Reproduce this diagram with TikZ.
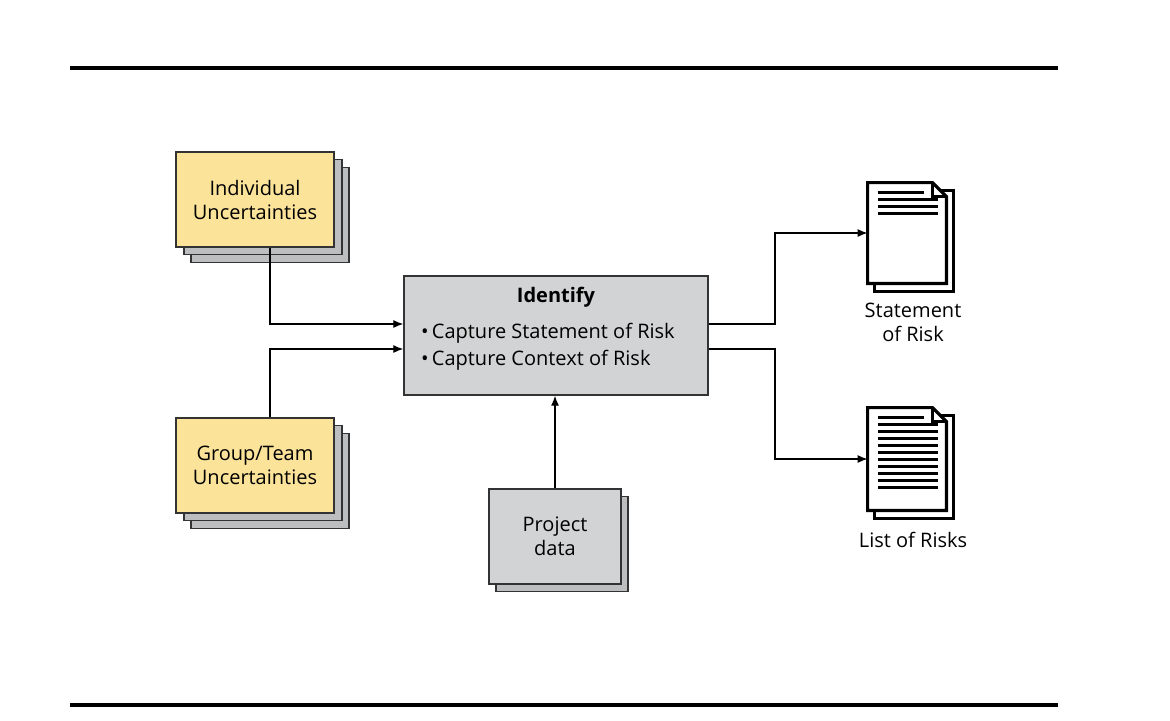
\documentclass[tikz,border=0pt]{standalone}
\usepackage{fontspec}
\setmainfont{Open Sans}
\usetikzlibrary{positioning,arrows.meta}
\definecolor{boxyellow}{HTML}{FBE39A}
\definecolor{boxgray}{HTML}{D2D3D4}
\definecolor{backgray}{HTML}{BDBEC0}
\tikzset{
  card/.style={draw=black!80,line width=0.7pt,minimum width=79pt,minimum height=47.5pt,
    align=center,font=\fontsize{10}{12}\selectfont},
  back/.style={card,fill=backgray},
  link/.style={line width=0.6pt,-{Latex[length=5pt,width=4pt]}},
  rule/.style={line width=2pt}
}
% paper icon: #1 = node name, #2 = number of text lines
\newcommand{\paper}[2]{%
  \draw[line width=1.6pt,fill=white] ([shift={(7,8)}]#1.north west) rectangle ([shift={(7,8)}]#1.south east);
  \draw[line width=1.6pt,fill=white] (#1.north west) -- ([xshift=-7pt]#1.north east)
    -- ([yshift=-7pt]#1.north east) -- (#1.south east) -- (#1.south west) -- cycle;
  \draw[line width=1.2pt] ([xshift=-7pt]#1.north east) -- ++(0,-7pt) -- ++(7pt,0);
  \draw[line width=1.6pt] ([shift={(10,10)}]#1.north west) -- ([shift={(-22,10)}]#1.north east);
  \foreach \i in {1,...,#2}
    \draw[line width=1.6pt] ([shift={(10,10+7*\i)}]#1.north west) -- ([shift={(-8,10+7*\i)}]#1.north east);
}
\begin{document}
\begin{tikzpicture}[x=0.5pt,y=-0.5pt]
  \useasboundingbox (0,0) rectangle (1170,720);
  \draw[rule] (70,68) -- (1058,68);
  \draw[rule] (70,705) -- (1058,705);

  % input cards
  \node[back] at (270,215) {};
  \node[back] at (263,207) {};
  \node[card,fill=boxyellow] (indiv) at (255,199.5) {Individual\\Uncertainties};
  \node[back] at (270,481) {};
  \node[back] at (263,473) {};
  \node[card,fill=boxyellow] (group) at (255,465.5) {Group/Team\\Uncertainties};
  \node[back,minimum width=66pt] at (562,544) {};
  \node[card,fill=boxgray,minimum width=66pt] (data) at (555,536.5) {Project\\data};

  % process
  \node[card,fill=boxgray,minimum width=152pt,minimum height=59.5pt] (ident) at (556,335.5) {};
  \node[font=\fontsize{10}{12}\selectfont\bfseries] (title) at (556,297) {Identify};
  \node[font=\fontsize{10}{12}\selectfont,anchor=west] (cap1) at (414,333) {\textbullet\,Capture Statement of Risk};
  \node[font=\fontsize{10}{12}\selectfont,anchor=west] (cap2) at (414,360) {\textbullet\,Capture Context of Risk};

  % outputs
  \node[minimum width=39pt,minimum height=50pt,inner sep=0pt] (stmt) at (907,233) {};
  \paper{stmt}{3}
  \node[minimum width=39pt,minimum height=51pt,inner sep=0pt] (list) at (907,459) {};
  \paper{list}{10}
  \node[font=\fontsize{10}{12}\selectfont,align=center] (stmtlbl) at (913,322) {Statement\\of Risk};
  \node[font=\fontsize{10}{12}\selectfont] (listlbl) at (913,540) {List of Risks};

  % connectors
  \draw[link] (indiv.south -| 270,0) |- (ident.west |- 0,324);
  \draw[link] (group.north -| 270,0) |- (ident.west |- 0,349);
  \draw[link] (data.north) -- (ident.south -| data.north);
  \draw[link] (ident.east |- 0,324) -- (775,324) |- (stmt.west);
  \draw[link] (ident.east |- 0,349) -- (775,349) |- (list.west);
\end{tikzpicture}
\end{document}
